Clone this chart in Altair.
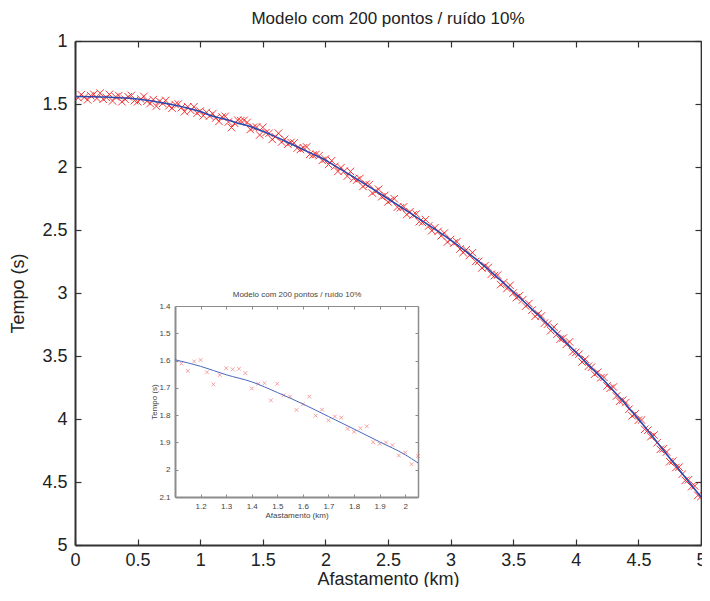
import altair as alt
import pandas as pd

# ---------------- data ----------------
offset_km = [round(0.025 * k, 3) for k in range(1, 201)]

tempo_s = [
    1.450, 1.426, 1.446, 1.467, 1.434, 1.423, 1.455, 1.414, 1.462, 1.448,
    1.424, 1.476, 1.444, 1.433, 1.482, 1.462, 1.443, 1.432, 1.473, 1.482,
    1.461, 1.440, 1.478, 1.496, 1.465, 1.517, 1.478, 1.494, 1.472, 1.514,
    1.533, 1.504, 1.500, 1.529, 1.561, 1.522, 1.551, 1.522, 1.573, 1.556,
    1.593, 1.566, 1.595, 1.577,
    1.611, 1.638, 1.603, 1.598, 1.643, 1.687, 1.653, 1.628, 1.632, 1.630,
    1.646, 1.702, 1.685, 1.683, 1.746, 1.685, 1.727, 1.732, 1.781, 1.760,
    1.732, 1.802, 1.780, 1.819, 1.805, 1.809, 1.850, 1.861, 1.848, 1.841,
    1.899, 1.905, 1.900,
    1.910, 1.948, 1.937, 1.980, 1.950, 1.995, 2.035, 2.005, 2.033, 2.072,
    2.035, 2.092, 2.104, 2.091, 2.154, 2.136, 2.140, 2.207, 2.192, 2.177,
    2.236, 2.225, 2.277, 2.264, 2.252, 2.319, 2.323, 2.316, 2.377, 2.355,
    2.381, 2.373, 2.434, 2.440, 2.418, 2.468, 2.505, 2.482, 2.511, 2.546,
    2.524, 2.595, 2.575, 2.604, 2.593, 2.651, 2.679, 2.657, 2.702, 2.680,
    2.750, 2.749, 2.801, 2.783, 2.798, 2.851, 2.862, 2.858, 2.933, 2.917,
    2.964, 2.939, 3.000, 3.037, 3.022, 3.054, 3.104, 3.084, 3.136, 3.185,
    3.164, 3.182, 3.239, 3.247, 3.299, 3.271, 3.327, 3.366, 3.357, 3.407,
    3.388, 3.467, 3.471, 3.486, 3.548, 3.525, 3.582, 3.589, 3.645, 3.629,
    3.673, 3.670, 3.738, 3.756, 3.746, 3.818, 3.859, 3.850, 3.869, 3.922,
    3.975, 3.959, 4.009, 4.008, 4.082, 4.089, 4.140, 4.127, 4.188, 4.241,
    4.236, 4.262, 4.339, 4.334, 4.385, 4.382, 4.438, 4.487, 4.482, 4.537,
    4.532, 4.606, 4.615,
]

curva_x = [0.0, 0.25, 0.5, 0.75, 1.0, 1.1, 1.2, 1.3, 1.4, 1.5, 1.6, 1.7, 1.8,
           1.9, 2.0, 2.05, 2.2, 2.45, 2.7, 2.95, 3.2, 3.5, 3.7, 4.0, 4.25,
           4.5, 4.75, 5.0]
curva_t = [1.44, 1.445, 1.46, 1.50, 1.56, 1.597, 1.621, 1.652, 1.678, 1.717,
           1.759, 1.805, 1.851, 1.898, 1.945, 1.975, 2.065, 2.22, 2.38, 2.545,
           2.73, 2.99, 3.175, 3.47, 3.72, 4.0, 4.31, 4.62]

main_x_ticks = [0, 0.5, 1, 1.5, 2, 2.5, 3, 3.5, 4, 4.5, 5]
main_y_ticks = [1, 1.5, 2, 2.5, 3, 3.5, 4, 4.5, 5]
inset_x_ticks = [1.2, 1.3, 1.4, 1.5, 1.6, 1.7, 1.8, 1.9, 2.0]
inset_y_ticks = [1.4, 1.5, 1.6, 1.7, 1.8, 1.9, 2.0, 2.1]

titulo = "Modelo com 200 pontos / ruído 10%"
eixo_x = "Afastamento (km)"
eixo_y = "Tempo (s)"

# ---------------- layout ----------------
W, H = 626, 504
IX0, IX1 = 100, 343     # inset horizontal range inside the main plot
IY0, IY1 = 265, 456     # inset vertical range inside the main plot
FONT = "Liberation Sans"
FRAME = "#333333"
IFRAME = "#8c8c8c"
XSHAPE = "M-1,-1L1,1M-1,1L1,-1"

pts = pd.DataFrame({"x": offset_km, "t": tempo_s})
crv = pd.DataFrame({"x": curva_x, "t": curva_t})


def mx():
    return alt.Scale(domain=[0, 5], nice=False, zero=False)


def my():
    return alt.Scale(domain=[1, 5], reverse=True, nice=False, zero=False)


def ix():
    return alt.Scale(domain=[1.1, 2.05], range=[IX0, IX1], nice=False, zero=False)


def iy():
    return alt.Scale(domain=[1.4, 2.1], range=[IY0, IY1], nice=False, zero=False)


def tick_axis(orient, offset, values, size, color, width, domain=False):
    return alt.Axis(orient=orient, offset=offset, values=values, labels=False,
                    ticks=True, tickSize=size, tickColor=color, tickWidth=width,
                    domain=domain, domainColor=color, domainWidth=width + 0.5,
                    grid=False, title=None)


# ---- main plot ----
main_pts = alt.Chart(pts).mark_point(
    shape=XSHAPE, filled=False, size=56, strokeWidth=1, color="#f01818",
    opacity=0.85, clip=True
).encode(
    x=alt.X("x:Q", scale=mx(), axis=alt.Axis(
        orient="bottom", values=main_x_ticks, format="~g", ticks=False,
        tickSize=0, labelPadding=6, labelFontSize=18, labelFont=FONT,
        labelColor="#222", labelFlush=False, domain=True, domainColor=FRAME,
        domainWidth=2, grid=False, title=eixo_x, titleFont=FONT,
        titleFontSize=18, titleFontWeight="normal", titleColor="#222",
        titleX=W / 2, titleY=34, titleBaseline="middle")),
    y=alt.Y("t:Q", scale=my(), axis=alt.Axis(
        orient="left", values=main_y_ticks, format="~g", ticks=False,
        tickSize=0, labelPadding=8, labelFontSize=18, labelFont=FONT,
        labelColor="#222", labelFlush=False, domain=True, domainColor=FRAME,
        domainWidth=2, grid=False, title=eixo_y, titleFont=FONT,
        titleFontSize=18, titleFontWeight="normal", titleColor="#222",
        titleX=-57, titleY=H / 2, titleBaseline="middle")),
)

main_line = alt.Chart(crv).mark_line(
    color="#2a48b0", strokeWidth=1.6, interpolate="monotone", clip=True
).encode(
    x=alt.X("x:Q", scale=mx(),
            axis=tick_axis("top", -H, main_x_ticks, 6, FRAME, 1.2)),
    y=alt.Y("t:Q", scale=my(),
            axis=tick_axis("right", -W, main_y_ticks, 6, FRAME, 1.2)),
)

main_frame = alt.Chart(crv).mark_line(opacity=0).encode(
    x=alt.X("x:Q", scale=mx(),
            axis=tick_axis("bottom", -H, main_x_ticks, 6, FRAME, 1.2, True)),
    y=alt.Y("t:Q", scale=my(),
            axis=tick_axis("left", -W, main_y_ticks, 6, FRAME, 1.2, True)),
)

# ---- inset ----
inset_pts = alt.Chart(pts).transform_filter(
    "datum.x > 1.11 && datum.x < 2.06"
).mark_point(
    shape=XSHAPE, filled=False, size=14, strokeWidth=0.9, color="#f06a6a"
).encode(
    x=alt.X("x:Q", scale=ix(), axis=alt.Axis(
        orient="bottom", offset=IY1 - H, values=inset_x_ticks, format="~g",
        ticks=False, tickSize=0, labelPadding=5, labelFontSize=8,
        labelFont=FONT, labelColor="#444", labelFlush=False, domain=True,
        domainColor=IFRAME, domainWidth=2, grid=False, title=eixo_x,
        titleFont=FONT, titleFontSize=8, titleFontWeight="normal",
        titleColor="#444", titleY=18, titleBaseline="middle")),
    y=alt.Y("t:Q", scale=iy(), axis=alt.Axis(
        orient="left", offset=-IX0, values=inset_y_ticks, format="~g",
        ticks=False, tickSize=0, labelPadding=5, labelFontSize=8,
        labelFont=FONT, labelColor="#444", labelFlush=False, domain=True,
        domainColor=IFRAME, domainWidth=2, grid=False, title=eixo_y,
        titleFont=FONT, titleFontSize=8, titleFontWeight="normal",
        titleColor="#444", titleX=-21, titleY=(IY0 + IY1) / 2,
        titleBaseline="middle")),
)

inset_line = alt.Chart(crv).transform_filter(
    "datum.x >= 1.1 && datum.x <= 2.05"
).mark_line(
    color="#4a68c0", strokeWidth=1, interpolate="monotone"
).encode(
    x=alt.X("x:Q", scale=ix(),
            axis=tick_axis("top", -IY1, inset_x_ticks, 3, IFRAME, 1)),
    y=alt.Y("t:Q", scale=iy(),
            axis=tick_axis("right", IX0 - W, inset_y_ticks, 3, IFRAME, 1)),
)

inset_frame = alt.Chart(crv).transform_filter(
    "datum.x >= 1.1 && datum.x <= 2.05"
).mark_line(opacity=0).encode(
    x=alt.X("x:Q", scale=ix(), axis=alt.Axis(
        orient="bottom", offset=IY0 - H, values=inset_x_ticks, labels=False,
        ticks=True, tickSize=3, tickColor=IFRAME, tickWidth=1, domain=True,
        domainColor=IFRAME, domainWidth=1, grid=False, title=titulo,
        titleFont=FONT, titleFontSize=8, titleFontWeight="normal",
        titleColor="#444", titleY=-12, titleBaseline="middle")),
    y=alt.Y("t:Q", scale=iy(),
            axis=tick_axis("left", -IX1, inset_y_ticks, 3, IFRAME, 1, True)),
)

chart = alt.layer(
    main_pts, main_line, main_frame, inset_pts, inset_line, inset_frame
).resolve_scale(
    x="independent", y="independent"
).properties(
    width=W, height=H,
    title=alt.TitleParams(titulo, font=FONT, fontSize=17, fontWeight="normal",
                          color="#222", offset=4),
    autosize=alt.AutoSizeParams(type="none"),
    padding={"left": 67, "top": 33, "right": 1, "bottom": 42},
).configure_view(stroke=None)

chart.save("out.html", embed_options={"renderer": "svg", "actions": False})
